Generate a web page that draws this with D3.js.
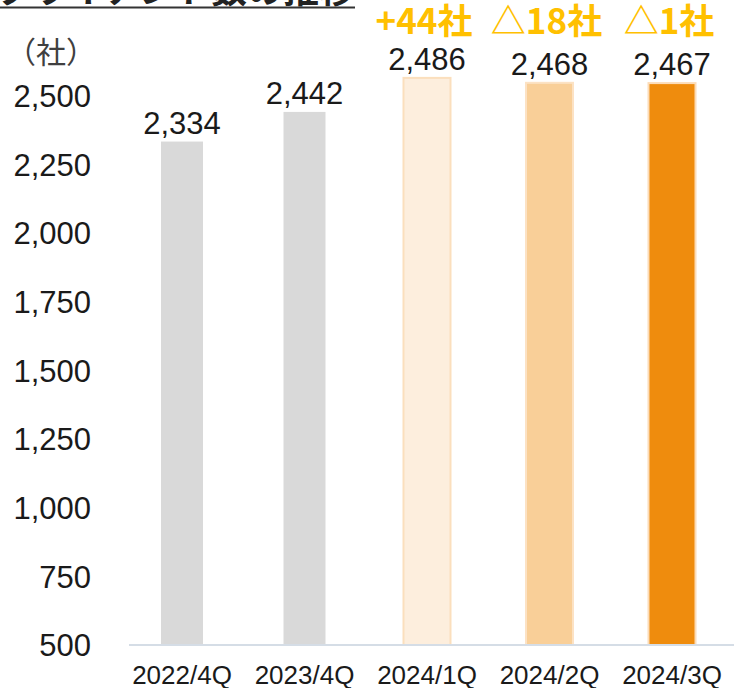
<!DOCTYPE html>
<html>
<head>
<meta charset="utf-8">
<script src="https://cdn.jsdelivr.net/npm/d3@7"></script>
<style>
  body { margin: 0; background: #fff; }
  svg { display: block; }
</style>
</head>
<body>
<div id="chart"></div>
<script>
// data
const quarters = ["2022/4Q", "2023/4Q", "2024/1Q", "2024/2Q", "2024/3Q"];
const clients = [2334, 2442, 2486, 2468, 2467];
const changes = ["", "", "+44社", "△18社", "△1社"];
const yTicks = [500, 750, 1000, 1250, 1500, 1750, 2000, 2250, 2500];
const barFill = ["#d9d9d9", "#d9d9d9", "#fdeedd", "#f9cf98", "#ef8c0d"];
const barStroke = ["none", "none", "#fbdfbd", "#fce2c4", "#fcdcb8"];
// 2024 bars sit on a hidden secondary axis in the original
const onSecondary = [false, false, true, true, true];

var width = 734
var height = 688;

let svg = d3.select("#chart")
    .append("svg")
    .attr("width", width)
    .attr("height", height)

const numFont = "'Liberation Sans', Arial, 'Noto Sans CJK JP', sans-serif";
const jpFont = "'Noto Sans CJK JP', 'Noto Sans', sans-serif";

const x = d3.scalePoint()
    .domain(quarters)
    .range([182, 672]);

const y = d3.scaleLinear()
    .domain([500, 2500])
    .range([645, 96]);

const y2 = d3.scaleLinear()
    .domain([420, 2420])
    .range([645, 96]);

const rows = quarters.map((q, i) => ({
    q: q, v: clients[i], change: changes[i],
    fill: barFill[i], stroke: barStroke[i], sec: onSecondary[i]
}));
const yOf = d => d.sec ? y2(d.v) : y(d.v);

// title (mostly cut off at the top edge)
svg.append("text")
    .attr("x", 355)
    .attr("y", 3)
    .attr("text-anchor", "end")
    .style("font-family", jpFont)
    .style("font-weight", 700)
    .style("font-size", "36px")
    .attr("fill", "#222")
    .text("クライアント数の推移");

svg.append("line")
    .attr("x1", 0).attr("x2", 355)
    .attr("y1", 7.5).attr("y2", 7.5)
    .attr("stroke", "#333")
    .attr("stroke-width", 2);

// unit label
svg.append("text")
    .attr("x", 6)
    .attr("y", 63)
    .style("font-family", jpFont)
    .style("font-size", "30px")
    .attr("fill", "#404040")
    .text("（社）");

// y tick labels
svg.selectAll(".ytick")
    .data(yTicks)
    .join("text")
    .attr("class", "ytick")
    .attr("x", 91)
    .attr("y", d => y(d))
    .attr("dy", "0.36em")
    .attr("text-anchor", "end")
    .style("font-family", numFont)
    .style("font-size", "31px")
    .attr("fill", "#1a1a1a")
    .text(d => d3.format(",")(d));

// bars
svg.selectAll(".bar")
    .data(rows)
    .join("rect")
    .attr("class", "bar")
    .attr("x", d => x(d.q) - (d.sec ? 23.5 : 21))
    .attr("width", d => d.sec ? 47 : 42)
    .attr("y", d => yOf(d))
    .attr("height", d => y(500) - yOf(d))
    .attr("fill", d => d.fill)
    .attr("stroke", d => d.stroke)
    .attr("stroke-width", 2);

// baseline
svg.append("line")
    .attr("x1", 129).attr("x2", width)
    .attr("y1", y(500)).attr("y2", y(500))
    .attr("stroke", "#d5dde6")
    .attr("stroke-width", 2);

// value labels
svg.selectAll(".vlabel")
    .data(rows)
    .join("text")
    .attr("class", "vlabel")
    .attr("x", d => x(d.q))
    .attr("y", d => yOf(d) - 8)
    .attr("text-anchor", "middle")
    .style("font-family", numFont)
    .style("font-size", "31px")
    .attr("fill", "#1a1a1a")
    .text(d => d3.format(",")(d.v));

// change labels, one header row
svg.selectAll(".clabel")
    .data(rows.filter(d => d.change))
    .join("text")
    .attr("class", "clabel")
    .attr("x", d => x(d.q) - 3)
    .attr("y", 34)
    .attr("text-anchor", "middle")
    .style("font-family", jpFont)
    .style("font-weight", 700)
    .style("font-size", "35px")
    .attr("fill", "#ffc000")
    .text(d => d.change);

// x labels
svg.selectAll(".xlabel")
    .data(quarters)
    .join("text")
    .attr("class", "xlabel")
    .attr("x", d => x(d))
    .attr("y", 684)
    .attr("text-anchor", "middle")
    .style("font-family", numFont)
    .style("font-size", "26px")
    .attr("fill", "#1a1a1a")
    .text(d => d);
</script>
</body>
</html>
